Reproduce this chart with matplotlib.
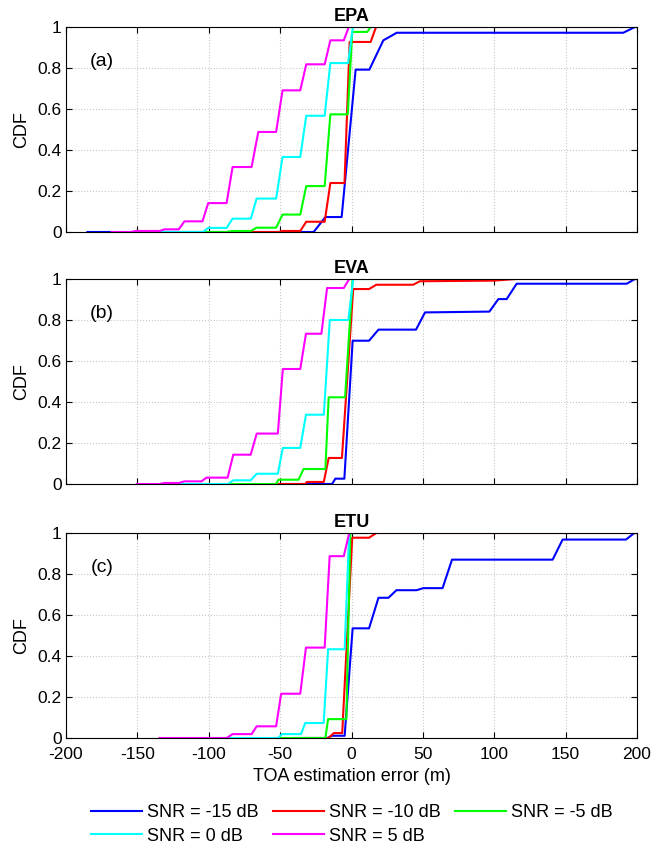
import matplotlib
matplotlib.use('Agg')
import matplotlib.pyplot as plt

plt.rcParams['font.family'] = ['Liberation Sans', 'DejaVu Sans']
plt.rcParams['axes.unicode_minus'] = False

# curve vertices (x in m, y = CDF)
snr_labels = ['SNR = -15 dB', 'SNR = -10 dB', 'SNR = -5 dB', 'SNR = 0 dB', 'SNR = 5 dB']
snr_colors = ['#0000ff', '#ff0000', '#00ff00', '#00ffff', '#ff00ff']
panel_titles = ['EPA', 'EVA', 'ETU']
panel_tags = ['(a)', '(b)', '(c)']

# EPA
epa_m15_x = [-185, -26.5, -18.3, -6.9, 2.9, 12.5, 22.3, 31.7, 190.4, 198.6]
epa_m15_y = [0, 0, 0.073, 0.073, 0.792, 0.792, 0.935, 0.972, 0.972, 1.0]
epa_m10_x = [-85, -51, -48.3, -35.9, -31.7, -18.8, -14.8, -4.9, -1.3, 13.4, 17.2, 30.5]
epa_m10_y = [0, 0, 0.005, 0.005, 0.05, 0.05, 0.239, 0.239, 0.927, 0.927, 1.0, 1.0]
epa_m5_x = [-118, -87.5, -83.3, -70.5, -66.5, -52.8, -48.3, -35.9, -31.7, -18.8, -14.8, -2.6, 0.5, 11, 13.5]
epa_m5_y = [0, 0, 0.005, 0.005, 0.021, 0.021, 0.085, 0.085, 0.224, 0.224, 0.574, 0.574, 0.976, 0.976, 1.0]
epa_0_x = [-152, -104, -100.4, -87.5, -83.3, -70.5, -66.5, -52.8, -48.3, -35.9, -31.7, -18.8, -14.8, -2.4, 1, 15]
epa_0_y = [0, 0, 0.02, 0.02, 0.065, 0.065, 0.163, 0.163, 0.366, 0.366, 0.567, 0.567, 0.824, 0.824, 1.0, 1.0]
epa_5_x = [-168, -154.5, -151, -134.5, -131, -121, -117, -104.4, -100.4, -87.5, -83.3, -70, -65.3,
           -52.8, -48.3, -35.9, -31.7, -18.8, -14.8, -5.4, -1.9]
epa_5_y = [0, 0, 0.005, 0.005, 0.013, 0.013, 0.052, 0.052, 0.141, 0.141, 0.317, 0.317, 0.488,
           0.488, 0.691, 0.691, 0.818, 0.818, 0.935, 0.935, 1.0]

# EVA
eva_m15_x = [-50, -13.6, -11.3, -5, 0.8, 12.3, 18.9, 45.2, 51.5, 96.6, 102.9, 108.7, 115.7, 192.8, 198.6]
eva_m15_y = [0, 0, 0.026, 0.026, 0.699, 0.699, 0.753, 0.753, 0.837, 0.841, 0.902, 0.902, 0.977, 0.977, 1.0]
eva_m10_x = [-51.2, -32.4, -31.2, -19.4, -16, -6.7, 1.2, 12.3, 17.4, 43.2, 47.9, 99.4, 115.7, 200]
eva_m10_y = [0, 0, 0.01, 0.01, 0.127, 0.127, 0.951, 0.951, 0.972, 0.972, 0.989, 0.992, 1.0, 1.0]
eva_m5_x = [-86.4, -52.8, -51.2, -37.1, -33.6, -18.3, -16, -4.5, 0.8, 48]
eva_m5_y = [0, 0, 0.021, 0.021, 0.073, 0.073, 0.423, 0.423, 1.0, 1.0]
eva_0_x = [-120, -86.4, -82.8, -70.6, -66.4, -51.6, -48.1, -35.9, -31.9, -19.4, -15.2, -2.2, 1.2, 20]
eva_0_y = [0, 0, 0.018, 0.018, 0.05, 0.05, 0.176, 0.176, 0.338, 0.338, 0.8, 0.8, 1.0, 1.0]
eva_5_x = [-150.4, -134.5, -131, -121, -117, -105.1, -101.6, -86.8, -82.8, -70.6, -66.4, -51.6,
           -48.1, -35.9, -31.9, -21.1, -17.1, -5.4, -1.6]
eva_5_y = [0, 0, 0.005, 0.005, 0.013, 0.013, 0.031, 0.031, 0.143, 0.143, 0.246, 0.246,
           0.561, 0.561, 0.733, 0.733, 0.956, 0.956, 1.0]

# ETU
etu_m15_x = [-40, -17, -13.6, -4.8, 0.8, 12.3, 18.9, 25.9, 31.5, 45.6, 50.3, 63.8, 70.4,
             140.9, 147.9, 192.3, 198.1]
etu_m15_y = [0, 0, 0.011, 0.011, 0.535, 0.535, 0.684, 0.684, 0.721, 0.721, 0.731, 0.731, 0.87,
             0.87, 0.968, 0.968, 1.0]
etu_m10_x = [-33.6, -16, -12.4, -6.5, 0.5, 12.3, 17.4, 200]
etu_m10_y = [0, 0, 0.024, 0.024, 0.977, 0.977, 1.0, 1.0]
etu_m5_x = [-52.3, -18.3, -16.4, -3.6, -0.8, 10]
etu_m5_y = [0, 0, 0.092, 0.092, 1.0, 1.0]
etu_0_x = [-101.6, -51.2, -48.8, -35.4, -32.4, -19.5, -16.4, -4.8, -1.6, 10]
etu_0_y = [0, 0, 0.019, 0.019, 0.073, 0.073, 0.433, 0.433, 1.0, 1.0]
etu_5_x = [-134.5, -87.5, -83.3, -70, -66.4, -52.8, -49.3, -35.9, -31.9, -18.8, -15.3, -5.4, -1.6]
etu_5_y = [0, 0, 0.019, 0.019, 0.057, 0.057, 0.216, 0.216, 0.441, 0.441, 0.887, 0.887, 1.0]

panels = [
    [(epa_m15_x, epa_m15_y), (epa_m10_x, epa_m10_y), (epa_m5_x, epa_m5_y), (epa_0_x, epa_0_y), (epa_5_x, epa_5_y)],
    [(eva_m15_x, eva_m15_y), (eva_m10_x, eva_m10_y), (eva_m5_x, eva_m5_y), (eva_0_x, eva_0_y), (eva_5_x, eva_5_y)],
    [(etu_m15_x, etu_m15_y), (etu_m10_x, etu_m10_y), (etu_m5_x, etu_m5_y), (etu_0_x, etu_0_y), (etu_5_x, etu_5_y)],
]

xticks = [-200, -150, -100, -50, 0, 50, 100, 150, 200]
yticks = [0, 0.2, 0.4, 0.6, 0.8, 1.0]
ytick_labels = ['0', '0.2', '0.4', '0.6', '0.8', '1']

W, H = 653, 848
fig = plt.figure(figsize=(W / 100, H / 100), dpi=100)
tops = [27, 279, 533]
ax_h = 205
handles = []
for i, (top, curves) in enumerate(zip(tops, panels)):
    ax = fig.add_axes([66 / W, 1 - (top + ax_h) / H, 571 / W, ax_h / H])
    for (cx, cy), col, lab in zip(curves, snr_colors, snr_labels):
        ln, = ax.plot(cx, cy, color=col, lw=1.5, label=lab)
        if i == 0:
            handles.append(ln)
    ax.set_xlim(-200, 200)
    ax.set_ylim(0, 1)
    ax.set_xticks(xticks)
    ax.set_yticks(yticks)
    ax.set_yticklabels(ytick_labels)
    ax.grid(True, ls=':', color='#c8c8c8', lw=0.8)
    ax.tick_params(direction='in', top=True, right=True, labelsize=12.5, length=4)
    ax.tick_params(axis='y', pad=3)
    ax.tick_params(axis='x', pad=6.5)
    if i < 2:
        ax.set_xticklabels([])
    else:
        ax.set_xlabel('TOA estimation error (m)', fontsize=13, labelpad=4)
    ax.set_ylabel('CDF', fontsize=13)
    ax.yaxis.set_label_coords(-0.063, 0.5)
    ax.set_title(panel_titles[i], fontsize=13, fontweight='bold', pad=4)
    ax.text(-175, 0.833, panel_tags[i], fontsize=14, ha='center', va='center')
    for sp in ax.spines.values():
        sp.set_linewidth(0.8)

order = [0, 3, 1, 4, 2]
fig.legend([handles[k] for k in order], [snr_labels[k] for k in order],
           loc='center', bbox_to_anchor=(0.539, 1 - 824.5 / H), ncol=3, frameon=False,
           fontsize=13, handlelength=2.82, handletextpad=0.28, columnspacing=0.78,
           labelspacing=0.35, borderpad=0.1)

fig.savefig('out.png', dpi=100)
